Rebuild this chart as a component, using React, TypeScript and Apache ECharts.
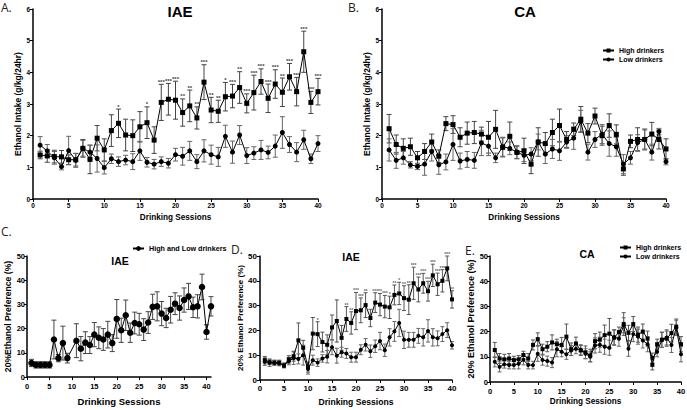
import { useEffect, useRef } from "react";
import * as echarts from "echarts";

const FONT = "'Liberation Sans', Arial, sans-serif";
const LETTER_FONT = "'Open Sans', 'DejaVu Sans', sans-serif";

const sessions = [1,2,3,4,5,6,7,8,9,10,11,12,13,14,15,16,17,18,19,20,21,22,23,24,25,26,27,28,29,30,31,32,33,34,35,36,37,38,39,40];
const xTicks = [0,5,10,15,20,25,30,35,40];

// Panel A – IAE ethanol intake (g/kg/24hr)
const aHigh = [1.39,1.36,1.34,1.33,1.24,1.24,1.6,1.25,1.92,1.55,2.16,2.39,2.02,2.0,2.28,2.41,1.86,3.05,3.15,3.12,2.73,2.94,2.56,3.69,2.81,2.77,3.23,3.25,3.52,3.02,3.36,3.71,3.18,3.63,3.37,3.86,3.39,4.65,3.05,3.39];
const aHighErr = [0.12,0.2,0.2,0.2,0.15,0.2,0.28,0.45,0.4,0.35,0.5,0.45,0.5,0.5,0.48,0.5,0.42,0.57,0.5,0.6,0.43,0.5,0.35,0.55,0.4,0.35,0.45,0.37,0.5,0.3,0.55,0.4,0.45,0.45,0.45,0.42,0.45,0.65,0.35,0.42];
const aLow = [1.7,1.52,1.3,1.02,1.53,1.22,1.6,1.48,1.28,0.99,1.27,1.18,1.23,1.18,1.52,1.16,1.1,1.18,1.13,1.4,1.35,1.52,1.18,1.52,1.4,1.33,1.98,1.48,2.02,1.37,1.45,1.55,1.47,1.67,2.1,1.72,1.48,1.87,1.27,1.75];
const aLowErr = [0.27,0.2,0.2,0.1,0.45,0.22,0.25,0.22,0.43,0.2,0.15,0.15,0.15,0.25,0.3,0.15,0.15,0.15,0.15,0.2,0.28,0.3,0.22,0.35,0.3,0.3,0.35,0.35,0.3,0.25,0.2,0.3,0.2,0.35,0.5,0.25,0.3,0.3,0.15,0.25];
const aStars = ["","","","","","","","","","","","*","","","","*","","***","***","***","**","**","**","***","**","**","*","***","**","***","***","***","***","***","**","***","***","***","***","***"];

// Panel B – CA ethanol intake
const bHigh = [2.22,1.72,1.6,1.65,1.3,1.5,1.8,1.35,2.38,2.35,1.95,2.08,2.1,2.05,1.95,2.2,1.63,1.98,1.47,1.52,1.1,1.8,1.75,2.1,2.32,1.88,2.2,2.52,2.08,2.62,2.0,2.32,2.04,0.95,1.82,1.88,1.88,2.05,1.88,1.58];
const bHighErr = [0.45,0.3,0.3,0.27,0.2,0.25,0.25,0.2,0.22,0.28,0.3,0.35,0.35,0.22,0.5,0.6,0.3,0.45,0.2,0.4,0.3,0.45,0.35,0.42,0.52,0.25,0.2,0.4,0.3,0.25,0.3,0.37,0.3,0.2,0.2,0.37,0.33,0.37,0.3,0.32];
const bLow = [1.55,1.22,1.3,1.08,1.03,1.1,1.5,1.08,1.17,1.72,1.2,1.25,1.22,1.77,1.67,1.3,1.65,1.6,1.48,1.38,1.42,1.8,1.42,1.58,1.52,1.8,1.92,2.45,1.48,1.88,2.05,1.75,1.65,1.1,1.3,1.78,1.88,1.48,2.13,1.18];
const bLowErr = [0.35,0.25,0.2,0.1,0.1,0.35,0.3,0.3,0.25,0.5,0.25,0.25,0.25,0.4,0.3,0.15,0.3,0.2,0.2,0.2,0.2,0.25,0.3,0.3,0.3,0.2,0.35,0.35,0.25,0.25,0.3,0.4,0.3,0.3,0.2,0.25,0.3,0.25,0.1,0.1];

// Panel C – IAE preference, all drinkers (session 10 missing)
const cSessions = [1,2,3,4,5,6,7,8,9,11,12,13,14,15,16,17,18,19,20,21,22,23,24,25,26,27,28,29,30,31,32,33,34,35,36,37,38,39,40,41];
const cVals = [5.8,5,5,5,5,15.5,7.8,14,7.8,15,11.7,14.2,13.2,17.5,16.2,15.5,17.5,14,24,19.3,25.5,18.3,22.3,21.8,19.6,22.5,29,29.2,26.2,24.4,27.8,30.3,28.5,31.8,33.3,28.8,29.2,37.2,18.6,29.2];
const cErr = [1.5,1.3,1.3,1.3,1.3,8,1.5,7,2,7,5,4.5,3.5,5,4.5,4.5,5.5,3.5,8,5,6.3,4,4.5,4.5,4.5,4.5,5.2,6,5,4,5.5,4.5,5,5,5.4,4.2,4.8,5.3,3,4];

// Panel D – IAE preference
const dHigh = [8,7.2,7,7,5.8,8.3,9.6,16,13,5.2,18.7,18.5,15.3,14.2,21.2,23.8,17,24.6,23,27.8,28.1,30.2,25,31.2,30.4,29.6,29.3,34.3,34.9,33,32.4,39,36.5,39,35.8,42.2,38.6,40,45,32.5];
const dHighErr = [1.5,1,1,1,0.8,1.5,2,7,3,2,6.5,5,4,4,5,8.5,5,5,4.5,7.5,5,5,3.5,4,4.5,4.5,4.5,4,4.5,5,6,6.5,5,4,4,4.5,4.5,4.5,5,3.5];
const dLow = [7.4,7,6.9,6.7,5.9,7.6,8.8,8.5,10,4.4,8,7,8.7,9.4,13.2,9.8,11.2,10.7,9.2,9.2,12.2,14.2,11.6,13.6,15.7,12,17.2,19.6,23,16.2,16.2,16.2,17.8,17.2,19.8,17.2,16.8,18.5,20.1,14];
const dLowErr = [1.5,1.5,1,1,1,1.5,2.5,2,4,2,2,1.5,1.5,2.5,3,3,2,2,2,2,2,2.5,2.5,2.5,3.5,2.5,3.5,4,5.5,3.5,3,3,3,3.5,4.5,3.5,3,3,3,1.5];
const dStars = ["","","","","","","","","","","","*","","","","","","**","**","***","***","**","","***","**","***","*","**","*","**","**","***","***","***","***","***","***","***","***","**"];

// Panel E – CA preference
const eHigh = [12.7,9.3,9,9.3,8.7,9,10.7,9.3,14.7,17,13,14,15.7,15,14.7,18,13,15.3,12.5,11.8,10.5,16.2,16.8,18.6,19.2,17.6,19.8,23,19.5,23,18.8,20,17.2,6.8,15,16.8,17.2,19.4,22,15];
const eHighErr = [3,2,2,2,1.5,1.5,1.5,2,2,2.5,2,2,3,2,3,5,2.5,2.5,2,2.5,2.5,3,3,4,6,3,2,4.5,3,3,3,3,3,2,2,3,3,3.5,3,3];
const eLow = [8,6,7,6.7,6.7,7.2,8.8,6.7,6.7,11.2,8.7,8.3,7.7,13,12,11,12.5,13.2,12.8,11.2,10,14.5,14.8,14,13.6,17.8,17.2,22.5,13.2,19,18,16.5,15,9.5,12,16.7,17.7,14.7,21.5,11];
const eLowErr = [2,2,1.5,1.5,1.5,2,2,1.5,1.5,3,2,2,2,3,2,2,2,2,2,2,2,3,3,3,3,3,3,3,3,3,3,3,3,2,2,3,3,3,3,3];

function lineSeries(name: string, idx: number, xs: number[], ys: number[], symbol: string, size: number) {
  return {
    type: "line", name, xAxisIndex: idx, yAxisIndex: idx, z: 3, silent: true,
    data: xs.map((x, k) => [x, ys[k]]),
    symbol, symbolSize: size, showSymbol: true,
    lineStyle: { color: "#000", width: 1 },
    itemStyle: { color: "#000" },
  };
}

function errSeries(idx: number, xs: number[], ys: number[], es: number[], color: string, cap: number) {
  return {
    type: "custom", xAxisIndex: idx, yAxisIndex: idx, z: 2, silent: true,
    data: xs.map((x, k) => [x, ys[k] - es[k], ys[k] + es[k]]),
    encode: { x: 0, y: [1, 2] },
    renderItem: (_p: any, api: any) => {
      const x = api.value(0);
      const lo = api.coord([x, api.value(1)]);
      const hi = api.coord([x, api.value(2)]);
      const st = { stroke: color, lineWidth: 1, fill: null };
      return {
        type: "group",
        children: [
          { type: "line", shape: { x1: lo[0], y1: lo[1], x2: hi[0], y2: hi[1] }, style: st },
          { type: "line", shape: { x1: hi[0] - cap, y1: hi[1], x2: hi[0] + cap, y2: hi[1] }, style: st },
          { type: "line", shape: { x1: lo[0] - cap, y1: lo[1], x2: lo[0] + cap, y2: lo[1] }, style: st },
        ],
      };
    },
  };
}

function starSeries(idx: number, xs: number[], ys: number[], es: number[], stars: string[], fontSize: number, color: string) {
  return {
    type: "scatter", xAxisIndex: idx, yAxisIndex: idx, z: 4, silent: true,
    symbolSize: 1, itemStyle: { color: "rgba(0,0,0,0)" },
    data: xs.map((x, k) => ({ name: stars[k], value: [x, ys[k] + es[k]] })).filter((d) => d.name),
    label: { show: true, position: "top", distance: -1, formatter: "{b}", fontSize, fontWeight: "bold", color, fontFamily: FONT },
  };
}

const axisLine = { show: true, onZero: false, lineStyle: { color: "#000", width: 1.5 } };

function xAxis(idx: number, max: number, labelSize: number, margin: number, nameGap: number, nameSize: number) {
  return {
    type: "value", gridIndex: idx, min: 0, max, interval: 5,
    axisLine,
    axisTick: { show: true, length: 3, inside: false, lineStyle: { color: "#000", width: 1 }, customValues: xTicks },
    axisLabel: { fontSize: labelSize, fontWeight: "bold", color: "#000", margin, fontFamily: FONT, customValues: xTicks },
    splitLine: { show: false },
    name: "Drinking Sessions", nameLocation: "middle", nameGap,
    nameTextStyle: { fontSize: nameSize, fontWeight: "bold", color: "#000", fontFamily: FONT },
  };
}

function yAxis(idx: number, max: number, interval: number, labelSize: number, margin: number, name: string, nameGap: number, nameSize: number) {
  return {
    type: "value", gridIndex: idx, min: 0, max, interval,
    axisLine,
    axisTick: { show: true, length: 3, lineStyle: { color: "#000", width: 1 } },
    axisLabel: { fontSize: labelSize, fontWeight: "bold", color: "#000", margin, fontFamily: FONT },
    splitLine: { show: false },
    name, nameLocation: "middle", nameGap,
    nameTextStyle: { fontSize: nameSize, fontWeight: "bold", color: "#000", fontFamily: FONT },
  };
}

function title(text: string, left: number, top: number, size: number, bold: boolean, font: string, align = "center") {
  return {
    text, left, top, padding: 0, textAlign: align,
    textStyle: { fontSize: size, fontWeight: bold ? "bold" : "normal", fontFamily: font, color: bold ? "#000" : "#222" },
  };
}

export default function App() {
  const ref = useRef<HTMLDivElement>(null);
  useEffect(() => {
    document.body.style.margin = "0";
    if (!ref.current) return;
    const chart = echarts.init(ref.current, null, { renderer: "svg" });
    const legendText = { fontSize: 7, fontWeight: "bold", color: "#000", fontFamily: FONT };
    const option: any = {
      animation: false,
      backgroundColor: "#fff",
      title: [
        title("IAE", 180, 4, 15, true, FONT),
        title("CA", 525, 4, 15, true, FONT),
        title("IAE", 120, 255, 10.5, true, FONT),
        title("IAE", 351, 251, 10.5, true, FONT),
        title("CA", 587, 248, 10.5, true, FONT),
        title("A.", 1, 1, 12, false, LETTER_FONT, "left"),
        title("B.", 348, 1, 12, false, LETTER_FONT, "left"),
        title("C.", 1, 225, 12, false, LETTER_FONT, "left"),
        title("D.", 231, 243, 12, false, LETTER_FONT, "left"),
        title("E.", 465, 244, 12, false, LETTER_FONT, "left"),
      ],
      legend: [
        { left: 602, top: 47, orient: "vertical", itemWidth: 11, itemHeight: 5, itemGap: 2, padding: 0, selectedMode: false, data: ["High drinkers", "Low drinkers"], textStyle: legendText },
        { left: 619, top: 244, orient: "vertical", itemWidth: 11, itemHeight: 5, itemGap: 2, padding: 0, selectedMode: false, data: ["High drinkers", "Low drinkers"], textStyle: legendText },
        { left: 132, top: 245, orient: "vertical", itemWidth: 11, itemHeight: 6, itemGap: 2, padding: 0, selectedMode: false, data: ["High and Low drinkers"], textStyle: { ...legendText, fontSize: 7.2 } },
      ],
      grid: [
        { left: 33, top: 9, width: 285, height: 190, outerBoundsMode: "none" },
        { left: 382, top: 9, width: 284, height: 190, outerBoundsMode: "none" },
        { left: 27, top: 256, width: 184, height: 121, outerBoundsMode: "none" },
        { left: 260, top: 256, width: 192, height: 124, outerBoundsMode: "none" },
        { left: 490, top: 256, width: 191, height: 126, outerBoundsMode: "none" },
      ],
      xAxis: [
        xAxis(0, 40, 6.5, 3, 14, 8.2),
        xAxis(1, 40, 6.5, 3, 14, 8.2),
        xAxis(2, 41, 7.5, 5, 19, 9.5),
        xAxis(3, 40, 8, 4, 17, 8.6),
        xAxis(4, 40, 7.5, 5, 15, 8.2),
      ],
      yAxis: [
        yAxis(0, 6, 1, 6.5, 3, "Ethanol Intake (g/kg/24hr)", 9, 8.5),
        yAxis(1, 6, 1, 6.5, 3, "Ethanol Intake (g/kg/24hr)", 11, 8.5),
        yAxis(2, 50, 10, 7.5, 2, "20%Ethanol Preference (%)", 15, 8.6),
        yAxis(3, 50, 10, 8, 3, "20% Ethanol Preference (%)", 14, 8),
        yAxis(4, 50, 10, 7.5, 2, "20% Ethanol Preference (%)", 9, 9),
      ],
      series: [
        errSeries(0, sessions, aHigh, aHighErr, "#444", 2.5),
        errSeries(0, sessions, aLow, aLowErr, "#666", 2.5),
        lineSeries("High drinkers", 0, sessions, aHigh, "rect", 5),
        lineSeries("Low drinkers", 0, sessions, aLow, "circle", 5),
        starSeries(0, sessions, aHigh, aHighErr, aStars, 6, "#000"),

        errSeries(1, sessions, bHigh, bHighErr, "#444", 2.5),
        errSeries(1, sessions, bLow, bLowErr, "#666", 2.5),
        lineSeries("High drinkers", 1, sessions, bHigh, "rect", 5),
        lineSeries("Low drinkers", 1, sessions, bLow, "circle", 5),

        errSeries(2, cSessions, cVals, cErr, "#444", 2.5),
        lineSeries("High and Low drinkers", 2, cSessions, cVals, "circle", 6.5),

        errSeries(3, sessions, dHigh, dHighErr, "#555", 2),
        errSeries(3, sessions, dLow, dLowErr, "#666", 2),
        lineSeries("High drinkers", 3, sessions, dHigh, "rect", 4),
        lineSeries("Low drinkers", 3, sessions, dLow, "circle", 4),
        starSeries(3, sessions, dHigh, dHighErr, dStars, 5, "#333"),

        errSeries(4, sessions, eHigh, eHighErr, "#555", 2),
        errSeries(4, sessions, eLow, eLowErr, "#666", 2),
        lineSeries("High drinkers", 4, sessions, eHigh, "rect", 4),
        lineSeries("Low drinkers", 4, sessions, eLow, "circle", 4),
      ],
    };
    chart.setOption(option);
    return () => chart.dispose();
  }, []);
  return <div ref={ref} style={{ width: 687, height: 410 }} />;
}
